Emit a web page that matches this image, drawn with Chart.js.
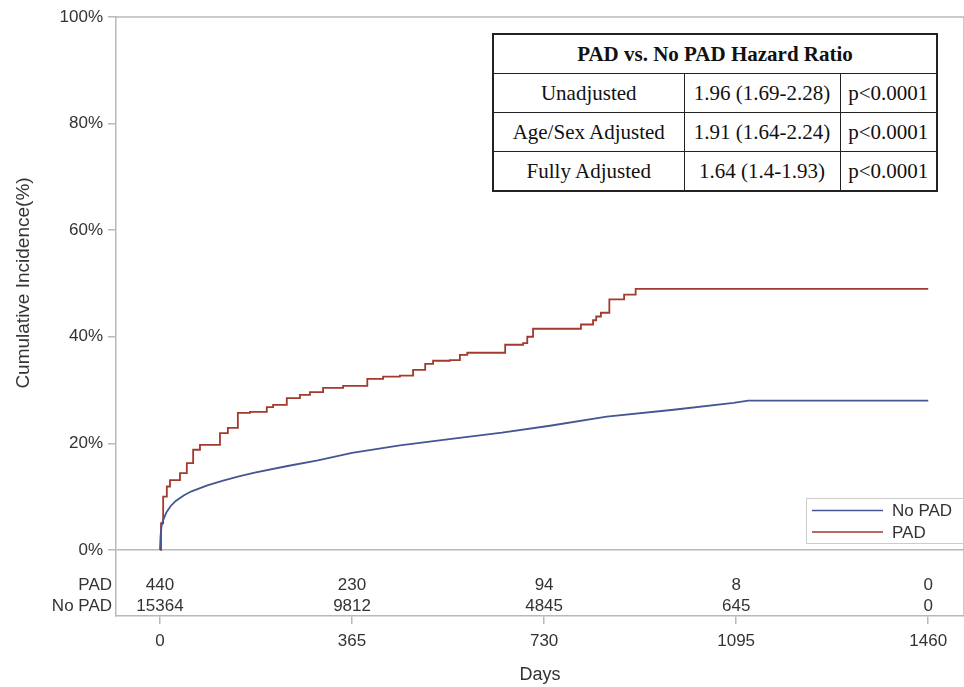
<!DOCTYPE html>
<html>
<head>
<meta charset="utf-8">
<script src="https://cdn.jsdelivr.net/npm/chart.js@4.4.1/dist/chart.umd.min.js"></script>
<style>
  body { margin: 0; background: #fff; }
  #wrap { position: relative; width: 964px; height: 687px; }
  #hr {
    position: absolute; left: 492px; top: 33px;
    border-collapse: collapse; table-layout: fixed;
    font-family: "Liberation Serif", "Times New Roman", serif;
    font-size: 21px; color: #111; background: #fff;
    border: 2px solid #222;
  }
  #hr td, #hr th { border: 1.5px solid #222; height: 38px; text-align: center; padding: 0; white-space: nowrap; }
  #hr th { font-weight: bold; }
</style>
</head>
<body>
<div id="wrap">
  <canvas id="ciChart" width="964" height="687"></canvas>
  <table id="hr"></table>
</div>
<script>
// courbes d'incidence cumulée (jours, %)
const padDays = [0, 2, 6, 13, 19, 38, 51, 63, 76, 114, 129, 148, 171, 203, 215, 241, 266, 285, 310, 348, 394, 424, 456, 481, 504, 519, 551, 570, 584, 656, 690, 698, 709, 800, 823, 829, 838, 854, 882, 904, 1460];
const padPct  = [0, 5, 10, 11.9, 13.1, 14.4, 16.3, 18.8, 19.7, 21.9, 22.9, 25.7, 25.9, 26.8, 27.2, 28.5, 29.1, 29.6, 30.4, 30.8, 32.1, 32.5, 32.7, 33.8, 34.9, 35.5, 35.6, 36.6, 37.0, 38.5, 38.8, 40.0, 41.5, 42.3, 43.1, 43.8, 44.5, 47.0, 47.9, 49.0, 49.0];

const noPadDays = [0, 1, 3, 6, 12, 20, 30, 45, 60, 90, 120, 150, 180, 240, 300, 365, 456, 550, 650, 741, 849, 976, 1090, 1118, 1460];
const noPadPct  = [0, 2.5, 4.5, 5.6, 7.0, 8.2, 9.2, 10.2, 11.0, 12.1, 13.0, 13.8, 14.5, 15.7, 16.8, 18.2, 19.6, 20.8, 22.0, 23.3, 25.0, 26.3, 27.6, 28.0, 28.0];

// axes
const xTicks = [0, 365, 730, 1095, 1460];
const yTicks = [0, 20, 40, 60, 80, 100];

// nombre de sujets à risque
const riskLabels = ['PAD', 'No PAD'];
const padAtRisk = [440, 230, 94, 8, 0];
const noPadAtRisk = [15364, 9812, 4845, 645, 0];

// tableau des hazard ratios
const hrTitle = 'PAD vs. No PAD Hazard Ratio';
const hrRows = ['Unadjusted', 'Age/Sex Adjusted', 'Fully Adjusted'];
const hrValues = ['1.96 (1.69-2.28)', '1.91 (1.64-2.24)', '1.64 (1.4-1.93)'];
const hrP = ['p<0.0001', 'p<0.0001', 'p<0.0001'];

const axisColor = '#b4babf';
const textColor = '#333333';
const fontFam = '"Liberation Sans", Arial, sans-serif';

// construit le tableau HTML
const tbl = document.getElementById('hr');
tbl.innerHTML = '<colgroup><col style="width:191px"><col style="width:156px"><col style="width:97px"></colgroup>' +
  '<tr><th colspan="3">' + hrTitle + '</th></tr>' +
  hrRows.map((r, i) => '<tr><td>' + r + '</td><td>' + hrValues[i] + '</td><td>' + hrP[i].replace('<', '&lt;') + '</td></tr>').join('');

const toXY = (days, pct) => days.map((d, i) => ({ x: d, y: pct[i] }));

// dessine cadre, légende, table à risque et titre Y
const extras = {
  id: 'extras',
  afterDraw(chart) {
    const { ctx, chartArea: a, scales: { x, y } } = chart;
    ctx.save();
    ctx.strokeStyle = axisColor;
    ctx.lineWidth = 1.5;
    ctx.beginPath();
    ctx.moveTo(a.left, a.top); ctx.lineTo(a.right, a.top); ctx.lineTo(a.right, a.bottom);
    ctx.stroke();

    // table à risque
    ctx.fillStyle = textColor;
    ctx.font = '17px ' + fontFam;
    ctx.textBaseline = 'middle';
    const y0 = y.getPixelForValue(0);
    const rowsY = [y0 + 35, y0 + 56];
    [padAtRisk, noPadAtRisk].forEach((row, r) => {
      ctx.textAlign = 'right';
      ctx.fillText(riskLabels[r], a.left - 4, rowsY[r]);
      ctx.textAlign = 'center';
      row.forEach((v, i) => ctx.fillText(String(v), x.getPixelForValue(xTicks[i]), rowsY[r]));
    });

    // légende
    ctx.strokeStyle = '#cccccc';
    ctx.lineWidth = 1;
    ctx.strokeRect(806.5, 498.5, 170, 45);
    ctx.font = '17px ' + fontFam;
    ctx.textAlign = 'left';
    chart.data.datasets.forEach((ds, i) => {
      const ly = 510.5 + i * 21.5;
      ctx.strokeStyle = ds.borderColor;
      ctx.lineWidth = 1.5;
      ctx.beginPath(); ctx.moveTo(812, ly); ctx.lineTo(883, ly); ctx.stroke();
      ctx.fillStyle = textColor;
      ctx.fillText(ds.label, 892, ly + 1);
    });

    // titre de l'axe Y
    ctx.translate(24, 283);
    ctx.rotate(-Math.PI / 2);
    ctx.textAlign = 'center';
    ctx.font = '19px ' + fontFam;
    ctx.fillText('Cumulative Incidence(%)', 0, 0);
    ctx.restore();
  }
};

new Chart(document.getElementById('ciChart').getContext('2d'), {
  type: 'line',
  data: {
    datasets: [
      { label: 'No PAD', data: toXY(noPadDays, noPadPct), borderColor: '#445694', borderWidth: 1.8, pointRadius: 0, tension: 0, fill: false },
      { label: 'PAD', data: toXY(padDays, padPct), borderColor: '#a23a2e', borderWidth: 1.8, pointRadius: 0, stepped: true, fill: false }
    ]
  },
  options: {
    responsive: false,
    animation: false,
    layout: { padding: { top: 17, right: 0, left: 0, bottom: 0 } },
    plugins: { legend: { display: false }, tooltip: { enabled: false } },
    scales: {
      x: {
        type: 'linear',
        min: -83.6,
        max: 1528,
        afterBuildTicks: s => { s.ticks = xTicks.map(v => ({ value: v })); },
        afterFit: s => { s.height = 71; },
        grid: { drawOnChartArea: false, tickLength: 8, color: axisColor, lineWidth: 1.5 },
        border: { color: axisColor, width: 1.5 },
        ticks: { color: textColor, font: { size: 17, family: fontFam }, padding: 7, maxRotation: 0, callback: v => String(v) },
        title: { display: true, text: 'Days', color: textColor, font: { size: 18, family: fontFam }, padding: { top: 4, bottom: 1 } }
      },
      y: {
        type: 'linear',
        min: -12.4,
        max: 100,
        afterBuildTicks: s => { s.ticks = yTicks.map(v => ({ value: v })); },
        afterFit: s => { s.width = 116; },
        grid: {
          color: c => (c.tick && c.tick.value === 0 ? axisColor : 'rgba(0,0,0,0)'),
          tickColor: axisColor, tickLength: 8, lineWidth: 1.5
        },
        border: { color: axisColor, width: 1.5 },
        ticks: { color: textColor, font: { size: 17, family: fontFam }, padding: 5, callback: v => v + '%' }
      }
    }
  },
  plugins: [extras]
});
</script>
</body>
</html>
